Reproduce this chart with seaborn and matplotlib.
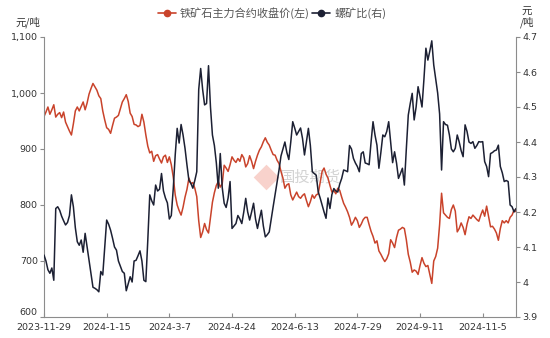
import numpy as np
import pandas as pd
import matplotlib
matplotlib.use("Agg")
import matplotlib.pyplot as plt
from matplotlib.lines import Line2D
import seaborn as sns

# Daily settlement data, 2023-11-29 .. 2024-11-28 (exchange trading days)
iron_ore_close = [
    958, 966, 975, 962, 970, 979, 957, 962, 965, 956,
    966, 948, 940, 932, 925, 945, 968, 975, 968, 976,
    984, 970, 982, 998, 1008, 1017, 1011, 1005, 995, 990,
    968, 952, 938, 935, 928, 942, 955, 957, 960, 972,
    984, 990, 997, 985, 964, 958, 944, 943, 940, 942,
    962, 948, 925, 905, 893, 896, 878, 888, 890, 882,
    875, 886, 889, 876, 886, 872, 850, 818, 800, 790,
    782, 796, 814, 828, 848, 838, 840, 830, 815, 772,
    742, 752, 767, 756, 750, 778, 805, 822, 835, 842,
    832, 838, 871, 866, 860, 872, 886, 880, 876, 883,
    878, 890, 884, 868, 874, 888, 878, 865, 878, 889,
    898, 904, 913, 920, 912, 907, 898, 890, 889, 880,
    874, 860, 848, 830, 836, 838, 818, 809, 816, 823,
    815, 812, 817, 820, 808, 797, 806, 818, 812, 818,
    820, 840, 860, 866, 855, 848, 835, 823, 826, 820,
    830, 826, 814, 803, 796, 788, 778, 764, 770, 778,
    772, 760, 766, 774, 778, 778, 765, 753, 744, 732,
    736, 718, 712, 705, 699, 704, 713, 738, 732, 724,
    742, 755, 757, 760, 758, 738, 712, 698, 680, 684,
    682, 676, 692, 706, 696, 690, 692, 676, 660, 700,
    708, 723, 765, 821, 786, 782, 778, 776, 792, 800,
    789, 752, 758, 768, 760, 747, 766, 779, 776, 782,
    778, 774, 771, 782, 791, 780, 798, 780, 761, 762,
    757, 750, 737, 758, 772, 768, 772, 768, 778, 782, 791, 788,
]

rebar_ore_ratio = [
    4.077, 4.06, 4.035, 4.025, 4.04, 4.005, 4.21, 4.215, 4.205, 4.188,
    4.175, 4.163, 4.17, 4.19, 4.249, 4.215, 4.155, 4.115, 4.105, 4.12,
    4.085, 4.139, 4.10, 4.06, 4.02, 3.985, 3.982, 3.978, 3.972, 4.03,
    4.02, 4.10, 4.177, 4.165, 4.148, 4.125, 4.10, 4.091, 4.06, 4.045,
    4.03, 4.025, 3.975, 3.995, 4.015, 4.00, 4.06, 4.062, 4.075, 4.089,
    4.06, 4.005, 4.001, 4.12, 4.249, 4.232, 4.22, 4.277, 4.26, 4.265,
    4.31, 4.26, 4.24, 4.226, 4.18, 4.19, 4.267, 4.363, 4.439, 4.397,
    4.45, 4.42, 4.382, 4.334, 4.29, 4.282, 4.268, 4.29, 4.315, 4.55,
    4.61, 4.55, 4.506, 4.51, 4.618, 4.50, 4.42, 4.39, 4.34, 4.268,
    4.367, 4.27, 4.225, 4.213, 4.24, 4.287, 4.153, 4.16, 4.167, 4.19,
    4.18, 4.167, 4.20, 4.239, 4.20, 4.177, 4.20, 4.225, 4.18, 4.153,
    4.18, 4.205, 4.16, 4.129, 4.135, 4.143, 4.18, 4.215, 4.25, 4.287,
    4.32, 4.36, 4.38, 4.40, 4.37, 4.35, 4.40, 4.458, 4.44, 4.42,
    4.43, 4.44, 4.41, 4.363, 4.40, 4.439, 4.39, 4.315, 4.31, 4.305,
    4.258, 4.24, 4.22, 4.20, 4.182, 4.24, 4.21, 4.25, 4.267, 4.26,
    4.257, 4.28, 4.296, 4.32, 4.318, 4.315, 4.39, 4.38, 4.353, 4.34,
    4.33, 4.315, 4.367, 4.372, 4.34, 4.338, 4.335, 4.40, 4.458, 4.42,
    4.391, 4.325, 4.37, 4.42, 4.415, 4.43, 4.458, 4.40, 4.341, 4.372,
    4.34, 4.296, 4.31, 4.325, 4.277, 4.38, 4.477, 4.51, 4.539, 4.463,
    4.50, 4.558, 4.53, 4.50, 4.58, 4.668, 4.634, 4.66, 4.689, 4.62,
    4.58, 4.54, 4.48, 4.32, 4.458, 4.45, 4.448, 4.42, 4.38, 4.372,
    4.382, 4.42, 4.40, 4.375, 4.358, 4.449, 4.43, 4.40, 4.396, 4.401,
    4.382, 4.39, 4.401, 4.40, 4.401, 4.344, 4.33, 4.301, 4.367, 4.37,
    4.375, 4.377, 4.391, 4.33, 4.312, 4.287, 4.29, 4.287, 4.22, 4.215, 4.20, 4.21,
]

holidays = [
    "2024-01-01", "2024-02-09", "2024-02-12", "2024-02-13", "2024-02-14",
    "2024-02-15", "2024-02-16", "2024-04-04", "2024-04-05", "2024-05-01",
    "2024-05-02", "2024-05-03", "2024-06-10", "2024-09-16", "2024-09-17",
    "2024-10-01", "2024-10-02", "2024-10-03", "2024-10-04", "2024-10-07",
]
trade_days = pd.bdate_range("2023-11-29", "2024-12-31", freq="C", holidays=holidays)

n = min(len(iron_ore_close), len(rebar_ore_ratio))
df = pd.DataFrame({
    "idx": np.arange(n),
    "date": trade_days[:n],
    "close": iron_ore_close[:n],
    "ratio": rebar_ore_ratio[:n],
})

left_label = "铁矿石主力合约收盘价(左)"
right_label = "螺矿比(右)"
red = "#C9432B"
navy = "#1C2033"
axis_grey = "#8C8C8C"
cjk = ["Noto Sans CJK SC", "DejaVu Sans"]

sns.set_theme(style="white")
plt.rcParams["font.family"] = ["DejaVu Sans"]

fig = plt.figure(figsize=(5.5, 3.38), dpi=100)
ax = fig.add_axes([44 / 550, 1 - 317 / 338, (516 - 44) / 550, (317 - 37) / 338])
ax2 = ax.twinx()

sns.lineplot(data=df, x="idx", y="close", ax=ax, color=red, linewidth=1.1)
sns.lineplot(data=df, x="idx", y="ratio", ax=ax2, color=navy, linewidth=1.1)

ax.set_xlim(0, n - 1)
ax.set_ylim(600, 1100)
ax2.set_ylim(3.9, 4.7)

ax.set_yticks(np.arange(600, 1101, 100))
ax.set_yticklabels([f"{v:,}" for v in range(600, 1101, 100)])
rt = np.round(np.arange(3.9, 4.71, 0.1), 1)
ax2.set_yticks(rt)
ax2.set_yticklabels([f"{v:g}" for v in rt])

xt = list(range(0, n, 32))
ax.set_xticks(xt)
ax.set_xticklabels([f"{d.year}-{d.month}-{d.day}" for d in df["date"].iloc[xt]])

for a in (ax, ax2):
    a.set_xlabel("")
    a.set_ylabel("")
    for s in a.spines.values():
        s.set_color(axis_grey)
        s.set_linewidth(0.8)
    a.spines["top"].set_visible(False)

ax.spines["right"].set_visible(False)
ax2.spines["left"].set_visible(False)
ax2.spines["bottom"].set_visible(False)

ax.tick_params(axis="y", which="both", left=True, length=3, width=0.8,
               color=axis_grey, labelsize=6.8, labelcolor="#333333", pad=1.5)
ax.tick_params(axis="x", bottom=True, direction="in", length=3, width=0.8,
               color=axis_grey, labelsize=6.8, labelcolor="#333333", pad=4)
ax2.tick_params(axis="y", right=True, length=3, width=0.8,
                color=axis_grey, labelsize=6.8, labelcolor="#333333", pad=1.5)

# nudge the lowest left label up so it clears the first date label
ax.get_yticklabels()[0].set_verticalalignment("bottom")

# unit labels
fig.text(15 / 550, 1 - 22 / 338, "元/吨", family=cjk, fontsize=7.5,
         color="#333333", va="center", ha="left")
fig.text(527 / 550, 1 - 17 / 338, "元\n/吨", family=cjk, fontsize=7.5,
         color="#333333", va="center", ha="center", linespacing=0.95)

# faint company watermark
ax.text(0.5, 0.5, "国投期货", transform=ax.transAxes, family=cjk, fontsize=11,
        color="#B0B0B0", alpha=0.55, ha="left", va="center", zorder=0)
ax.scatter([0.47], [0.5], transform=ax.transAxes, marker="D", s=170,
           color="#F4B5AA", alpha=0.6, zorder=0, linewidths=0)

handles = [
    Line2D([], [], color=red, linewidth=1.2, marker="o", markersize=4.5),
    Line2D([], [], color=navy, linewidth=1.2, marker="o", markersize=4.5),
]
fig.legend(handles, [left_label, right_label], loc="center",
           bbox_to_anchor=(272 / 550, 1 - 13 / 338), ncol=2, frameon=False,
           prop={"family": cjk, "size": 8}, labelcolor="#555555",
           handlelength=1.6, handletextpad=0.4, columnspacing=0.2,
           borderpad=0, borderaxespad=0)

fig.savefig("out.png", dpi=100)
